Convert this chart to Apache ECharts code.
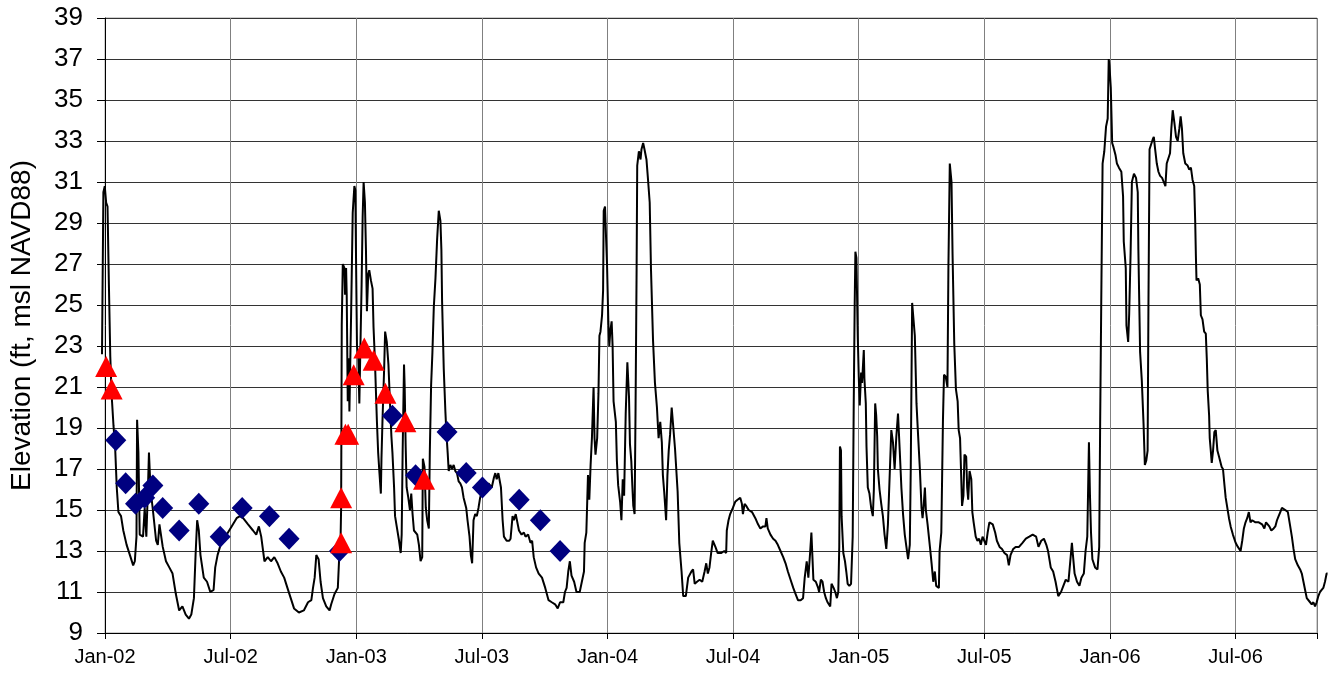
<!DOCTYPE html>
<html>
<head>
<meta charset="utf-8">
<script src="https://cdn.jsdelivr.net/npm/echarts@6/dist/echarts.min.js"></script>
<style>
  html, body { margin: 0; padding: 0; background: #fff; }
  #chart { width: 1333px; height: 675px; }
</style>
</head>
<body>
<div id="chart"></div>
<script>
// x values are days counted from 1 Jan 2002, y values are elevation (ft)
var lineData = [
  [0,22.6],[2,30.5],[4,30.8],[6,30.0],[8,29.8],[10,26.0],[12,22.5],[14,20.6],[16.7,19.1],[19,18.1],
  [21.4,16.1],[23.8,14.9],[27.6,14.7],[30.9,14.0],[35.7,13.3],[40.5,12.8],[45.2,12.3],[47.6,12.5],[50,13.7],[50.9,19.4],
  [52.8,17.8],[54.7,13.8],[59.5,13.7],[61.9,15.1],[64.3,13.7],[66.6,16.0],[68.1,17.8],[70.4,16.0],[73.8,15.0],[78.5,13.5],
  [80.9,13.3],[83.3,14.3],[88.1,13.2],[92.8,12.5],[97.6,12.2],[102.3,11.9],[107.1,10.9],[111.9,10.1],[116.6,10.3],[121.4,9.9],
  [126.1,9.7],[129.5,9.9],[133.3,10.7],[135.7,12.8],[138,14.5],[140.4,14.0],[142.8,12.8],[147.6,11.7],[152.3,11.5],[157.1,11.0],
  [161.8,11.1],[164.2,12.2],[167.6,12.8],[173.7,13.5],[180.9,13.8],[188,14.2],[195.2,14.6],[199.9,14.7],[204.7,14.6],[211.8,14.3],
  [219,14.0],[223.7,13.8],[227.5,14.2],[230.9,13.7],[235.6,12.5],[240.4,12.7],[245.1,12.5],[249.9,12.7],[254.7,12.4],[259.4,12.0],
  [264.2,11.7],[268.9,11.2],[273.7,10.7],[278.5,10.2],[285.6,10.0],[292.7,10.1],[298.8,10.5],[303.6,10.6],[306,11.2],[308.4,11.7],
  [310.8,12.8],[314.1,12.6],[317,11.5],[320.4,10.7],[325.2,10.3],[330,10.1],[332.4,10.4],[337.2,10.9],[342,11.2],[344.4,13.0],
  [345.8,13.3],[346.8,15.1],[347.7,24.0],[349.2,27.0],[351.6,26.8],[352.5,25.5],[354,26.8],[354.9,25.5],[356.4,20.3],[357.8,22.4],
  [358.8,19.8],[361.2,24.4],[363.6,29.5],[366,30.8],[367.4,30.6],[368.4,27.3],[369.8,23.0],[371.7,22.4],[373.2,20.2],[374.6,22.7],
  [376.5,26.0],[378,29.3],[379.4,31.0],[381.3,30.0],[382.8,27.7],[384.2,24.7],[386.1,26.5],[387.6,26.7],[390,26.2],[392.4,25.8],
  [393.8,23.9],[395.7,22.4],[398.6,19.4],[400.5,17.8],[402.4,16.8],[404.4,15.8],[405.3,17.5],[406.8,19.4],[409.2,21.9],[410.6,23.7],
  [413,23.2],[415.4,22.1],[417.8,20.1],[419.7,18.6],[421.2,17.8],[423.6,16.1],[425,14.7],[427.4,14.2],[430.8,13.5],[433.2,12.9],
  [434.6,13.8],[436,17.8],[438,22.1],[438.9,21.1],[440.4,18.1],[441.8,16.1],[444.2,15.6],[446.6,15.0],[448.5,15.8],[450.4,14.8],
  [452.4,14.0],[457.2,13.8],[459.6,13.3],[462,12.5],[464.4,12.7],[465.3,17.5],[467.7,17.1],[469.6,15.1],[471.6,14.5],[474,14.1],
  [475.4,17.8],[477.3,21.1],[479.2,22.7],[481.2,24.9],[483.6,26.3],[486,28.2],[488.4,29.6],[490.8,29.1],[492.2,27.7],[493.2,25.2],
  [495.6,21.9],[498,19.8],[499.4,18.8],[501.3,17.8],[502.8,16.9],[505.2,17.2],[507.6,17.0],[510,17.2],[512.4,16.9],[514.8,16.8],
  [517.2,16.4],[519.6,16.3],[522,16.1],[524.4,15.6],[528.2,15.1],[530.1,14.5],[533,13.7],[534.9,12.8],[536.8,12.4],[538.8,14.5],
  [541.2,14.8],[543.6,14.7],[546,15.1],[548.4,15.6],[551.7,16.0],[555.6,16.1],[560.4,16.3],[565.2,16.1],[568.5,16.6],[570.4,16.8],
  [572.4,16.5],[574.8,16.8],[577.2,16.8],[578.6,16.1],[581,14.5],[582.9,13.7],[586.8,13.5],[590.6,13.5],[592.5,13.6],[595.4,14.7],
  [597.3,14.5],[600,14.8],[604.7,14.0],[608.5,13.8],[611.9,13.9],[614.2,13.7],[618,13.8],[621.4,13.4],[623.8,13.5],[626.1,12.7],
  [629.5,12.2],[633.3,11.9],[638.1,11.7],[642.8,11.2],[647.6,10.6],[652.3,10.5],[657.1,10.4],[660.9,10.2],[664.3,10.5],[669,10.5],
  [671.4,11.0],[673.8,11.2],[676.2,12.0],[678.5,12.5],[680.9,11.8],[684.7,11.5],[688.1,11.0],[692.8,11.0],[695.2,11.0],[699,12.0],
  [700,13.4],[702.4,13.9],[704.8,16.7],[706.7,15.5],[708.6,17.2],[710.5,18.5],[712.9,21.0],[714.3,18.5],[715.7,17.7],[718.1,18.5],
  [720,20.7],[721.4,23.5],[722.9,23.7],[725.2,24.5],[726.7,25.7],[727.6,29.6],[729.5,29.8],[731,28.3],[732.4,27.0],[734.3,24.2],
  [735.7,23.0],[737.1,23.7],[739.1,24.2],[740.5,23.0],[741.9,20.3],[745.2,19.3],[746.7,17.4],[748.6,16.2],[751.4,15.4],[753.3,14.5],
  [755.2,16.5],[757.2,15.7],[759.5,19.7],[761.9,22.2],[764.3,20.5],[765.7,18.2],[767.6,17.4],[769.1,16.2],[770.5,15.2],[772.4,14.8],
  [773.8,20.0],[775.3,26.7],[776.2,31.8],[778.6,32.5],[781,32.1],[782.4,32.6],[784.8,32.9],[786.7,32.6],[789.6,32.1],[791.9,31.1],
  [794.3,30.0],[796.2,26.7],[799.1,23.3],[801.9,21.2],[804.8,20.0],[807.2,18.5],[809.6,19.3],[811.9,18.3],[813.4,16.7],[815.3,15.9],
  [818.1,14.5],[820,16.7],[821.9,17.9],[823.9,18.7],[826.2,20.0],[828.6,19.0],[831,18.0],[833.4,18.0],[834.8,15.9],[837.2,13.4],
  [840.5,12.0],[842.9,10.8],[846.7,10.8],[850.1,11.7],[854.8,12.0],[857.2,12.1],[859.6,11.4],[862.9,11.5],[866.7,11.6],[870.5,11.5],
  [873.9,12.0],[876.3,12.4],[878.6,11.9],[881,12.2],[883.4,12.9],[885.8,13.5],[889.6,13.2],[892.9,12.9],[897.7,12.9],[902.5,13.0],
  [905.2,12.9],[906.1,14.0],[908.6,14.5],[911,14.8],[914.9,15.1],[918.3,15.4],[921.7,15.5],[925.6,15.6],[928,15.3],[929.5,14.8],
  [931.9,15.3],[934.4,15.2],[937.8,15.0],[942.7,14.9],[947.5,14.6],[951.4,14.3],[954.8,14.1],[958.7,14.2],[962.1,14.2],[963.6,14.6],
  [965.5,14.1],[969.4,13.8],[973.3,13.6],[976.7,13.5],[980.1,13.3],[984,13.0],[987.9,12.7],[991.3,12.4],[994.7,12.0],[998.6,11.6],
  [1002.5,11.2],[1005.9,10.9],[1009.3,10.6],[1013.2,10.6],[1016.7,10.7],[1019.1,11.7],[1022,12.5],[1024.4,11.7],[1026.9,12.9],[1028.8,13.9],
  [1030.3,12.7],[1031.7,11.6],[1035.2,11.5],[1038.6,11.2],[1040,11.0],[1042.5,11.6],[1044.9,11.5],[1047.3,11.0],[1049.8,10.7],[1052.2,10.5],
  [1056.1,10.3],[1058,11.4],[1061,11.2],[1063.4,11.0],[1065.8,10.7],[1067.8,11.0],[1069.2,13.2],[1070.2,18.1],[1071.7,17.9],[1072.6,14.7],
  [1075.1,12.9],[1077.5,12.5],[1079.4,12.0],[1081.4,11.4],[1083.8,11.3],[1086.3,11.4],[1088.7,13.7],[1090.2,20.2],[1091.6,25.1],[1092.6,27.6],
  [1094.1,27.3],[1096,23.5],[1097.5,21.5],[1098.9,20.1],[1100.9,21.7],[1102.3,21.2],[1104.8,22.8],[1105.7,21.4],[1107.7,20.2],[1108.7,18.1],
  [1110.6,16.1],[1113,15.8],[1115.5,15.1],[1117.9,14.7],[1119.4,16.0],[1121.3,20.2],[1122.8,19.6],[1124.2,18.6],[1125.2,17.0],[1127.6,16.0],
  [1130.1,15.3],[1132.5,14.7],[1134.9,13.8],[1137.4,13.1],[1139.8,14.3],[1142.2,14.3],[1144.7,18.9],[1147.1,18.3],[1149.5,17.0],[1152,18.6],
  [1154.4,19.7],[1156.9,17.9],[1159.3,16.1],[1161.7,14.8],[1164.2,13.8],[1166.6,13.2],[1169,12.6],[1171.5,13.3],[1172.9,17.0],[1174.9,25.1],
  [1176.8,25.1],[1178.8,23.5],[1181.2,20.2],[1183.6,18.6],[1186.1,17.0],[1188.5,15.1],[1190,14.6],[1191.4,15.1],[1193.4,16.1],[1194.8,15.0],
  [1197.3,14.3],[1200.7,13.2],[1203.1,12.4],[1205.5,11.5],[1207.8,12.0],[1209.8,11.3],[1213.7,11.2],[1214.7,13.0],[1217.2,13.9],[1219.6,19.4],
  [1221.1,21.6],[1223.6,21.5],[1226.1,21.0],[1227.5,26.8],[1229.5,31.9],[1232,31.0],[1233.5,27.5],[1236,23.1],[1238.4,20.9],[1240.9,20.3],
  [1242.4,18.9],[1244.4,18.5],[1245.9,16.8],[1247.3,15.2],[1249.3,15.7],[1250.8,17.7],[1253.3,17.6],[1254.7,16.1],[1256.2,15.5],[1258.2,16.9],
  [1260.7,16.5],[1262.2,14.9],[1264.1,14.4],[1267.1,13.7],[1269.6,13.5],[1272.1,13.6],[1274.5,13.3],[1277,13.7],[1279.5,13.5],[1282,13.3],
  [1284.4,13.9],[1286.9,14.4],[1291.8,14.3],[1295.3,13.9],[1297.8,13.5],[1301.7,13.2],[1305.2,13.1],[1308.7,12.9],[1312.6,12.8],[1315.1,12.3],
  [1317.6,12.8],[1321.5,13.1],[1325,13.2],[1329.9,13.2],[1334.9,13.4],[1339.8,13.6],[1344.8,13.7],[1349.7,13.8],[1354.7,13.7],[1358.1,13.2],
  [1362.1,13.5],[1366,13.6],[1369.5,13.3],[1372,13.0],[1375.9,12.2],[1379.4,12.0],[1382.9,11.5],[1386.8,10.8],[1390.8,11.0],[1394.2,11.3],
  [1397.7,11.6],[1401.6,11.5],[1404.1,11.5],[1406.6,13.4],[1408.1,12.8],[1410.5,11.9],[1414,11.5],[1417.5,11.3],[1420.4,11.7],[1423.9,11.9],
  [1426.4,13.0],[1428.9,13.7],[1431.3,18.3],[1432.8,15.7],[1434.3,13.9],[1436.3,12.6],[1440.2,12.2],[1443.7,12.1],[1446.2,13.2],[1447.6,19.4],
  [1449.1,24.9],[1451.1,31.9],[1453.6,32.5],[1456.1,33.7],[1458.5,34.1],[1460,37.0],[1461,36.7],[1463,35.6],[1465,32.9],[1466.9,32.7],
  [1469.9,32.3],[1471.9,31.9],[1474.8,31.7],[1478.3,31.5],[1480.8,30.3],[1481.8,28.1],[1484.7,26.8],[1485.7,24.0],[1488.2,23.2],[1489.7,24.6],
  [1491.7,27.5],[1493.6,31.0],[1496.6,31.4],[1499.6,31.2],[1502.1,30.5],[1503,27.7],[1505.5,22.7],[1508,21.3],[1510.5,19.2],[1512.4,17.2],
  [1514.4,17.4],[1516.4,17.9],[1517.6,25.0],[1519.2,32.6],[1521.6,32.6],[1524,33.1],[1525.4,33.2],[1527.3,32.6],[1529.7,31.9],[1532.1,31.5],
  [1534.5,31.3],[1537.4,31.2],[1539.8,31.0],[1542.2,30.8],[1544.1,31.9],[1546.5,31.9],[1548.9,32.4],[1550.8,33.6],[1552.8,34.5],[1555.2,33.9],
  [1557.6,33.2],[1560,33.0],[1562.4,33.6],[1564.3,34.2],[1566.2,33.6],[1568.1,32.4],[1571,31.9],[1574.4,31.8],[1576.8,31.6],[1579.2,31.7],
  [1581.6,31.1],[1584,30.8],[1585.4,29.1],[1586.4,27.4],[1587.3,26.2],[1589.7,26.3],[1592.1,26.0],[1593.6,24.5],[1596,24.3],[1598.4,23.7],
  [1600.8,23.6],[1602.2,22.4],[1603.6,20.8],[1605.6,19.6],[1606.5,18.5],[1608,17.9],[1609.4,17.3],[1611.3,17.9],[1613.2,18.8],[1615.2,18.9],
  [1617.6,17.9],[1620,17.6],[1623.8,17.1],[1625.7,17.0],[1627.6,16.3],[1629.6,15.6],[1632,15.1],[1634.4,14.6],[1636.8,14.2],[1640.1,13.8],
  [1644,13.4],[1647.3,13.2],[1651.2,13.0],[1653.6,13.5],[1656,14.1],[1658.4,14.4],[1660.8,14.6],[1663.2,14.9],[1665.6,14.4],[1668,14.5],
  [1672.8,14.4],[1677.6,14.4],[1682.4,14.3],[1685.7,14.1],[1688.1,14.4],[1691,14.4],[1692.9,14.2],[1695.8,14.0],[1699.2,14.1],[1701.6,14.2],
  [1704,14.5],[1706.4,14.7],[1708.8,14.9],[1711.2,15.1],[1713.6,15.1],[1716,15.0],[1719.8,14.9],[1723.2,14.2],[1725.6,13.7],[1728,13.1],
  [1730.4,12.6],[1734.2,12.3],[1737.6,12.1],[1740,11.9],[1742.4,11.5],[1744.8,11.1],[1747.2,10.7],[1749.6,10.7],[1752,10.5],[1754.4,10.4],
  [1756.8,10.5],[1759.2,10.3],[1761.6,10.5],[1764,10.8],[1766.4,11.0],[1768.8,11.1],[1771.2,11.2],[1773.6,11.5],[1776,11.9],[1777.4,11.9]
];

var diamondDays = [20, 34.3, 48.6, 61.9, 73.8, 88, 111.9, 140.4, 171.4, 203.3, 242.8, 271.3,
                   344.4, 421.2, 454.8, 500.4, 528.2, 551.7, 605, 635.7, 664.3];
var diamondElev = [18.4, 16.3, 15.3, 15.6, 16.2, 15.1, 14.0, 15.3, 13.7, 15.1, 14.7, 13.6,
                   13.0, 19.6, 16.7, 18.8, 16.8, 16.1, 15.5, 14.5, 13.0];

var triangleDays = [6, 14, 346.8, 346.8, 353, 357, 365, 380.4, 394, 411, 440, 467];
var triangleElev = [22.0, 20.9, 13.4, 15.6, 18.7, 18.7, 21.6, 22.9, 22.3, 20.7, 19.3, 16.5];

var tickLabels = ['Jan-02', 'Jul-02', 'Jan-03', 'Jul-03', 'Jan-04', 'Jul-04',
                  'Jan-05', 'Jul-05', 'Jan-06', 'Jul-06'];

var halfYear = 182.625;
var axisEnd = 1762;   // right edge of the plot frame
var dataEnd = 1778;   // the trace runs a little past the frame
var font = '"Liberation Sans", Arial, sans-serif';

function pairs(xs, ys) {
  return xs.map(function (x, i) { return [x, ys[i]]; });
}

var chart = echarts.init(document.getElementById('chart'));
chart.setOption({
  animation: false,
  backgroundColor: '#fff',
  grid: [
    // frame, ticks and labels
    { left: 102, right: 16, top: 18, bottom: 42, show: true, borderColor: '#a0a0a0', borderWidth: 1 },
    // same scale, wider so the trace can run past the frame
    { left: 102, right: 5, top: 18, bottom: 42 }
  ],
  xAxis: [
    {
      type: 'value',
      gridIndex: 0,
      min: 0,
      max: axisEnd,
      interval: halfYear,
      axisLine: { lineStyle: { color: '#000', width: 1 } },
      axisTick: { show: true, length: 6, lineStyle: { color: '#000' } },
      axisLabel: {
        margin: 14,
        fontFamily: font,
        fontSize: 20,
        color: '#000',
        formatter: function (v) {
          var k = Math.round(v / halfYear);
          return Math.abs(k * halfYear - v) < 1 && tickLabels[k] ? tickLabels[k] : '';
        }
      },
      splitLine: { show: true, lineStyle: { color: '#808080', width: 1 } }
    },
    { type: 'value', gridIndex: 1, min: 0, max: dataEnd, show: false }
  ],
  yAxis: [
    {
      type: 'value',
      gridIndex: 0,
      min: 9,
      max: 39,
      interval: 2,
      name: 'Elevation (ft, msl NAVD88)',
      nameLocation: 'middle',
      nameGap: 69,
      nameTextStyle: { fontFamily: font, fontSize: 28, color: '#000' },
      axisLine: { show: true, lineStyle: { color: '#000', width: 1 } },
      axisTick: { show: true, length: 8, lineStyle: { color: '#000' } },
      axisLabel: { margin: 22, fontFamily: font, fontSize: 26, color: '#000' },
      splitLine: { show: true, lineStyle: { color: '#333', width: 1 } }
    },
    { type: 'value', gridIndex: 1, min: 9, max: 39, show: false }
  ],
  series: [
    {
      type: 'line',
      xAxisIndex: 1,
      yAxisIndex: 1,
      data: lineData,
      showSymbol: false,
      lineStyle: { color: '#000', width: 2 },
      z: 2
    },
    {
      type: 'scatter',
      xAxisIndex: 1,
      yAxisIndex: 1,
      data: pairs(diamondDays, diamondElev),
      symbol: 'diamond',
      symbolSize: [21, 22],
      itemStyle: { color: '#000080', opacity: 1 },
      z: 3
    },
    {
      type: 'scatter',
      xAxisIndex: 1,
      yAxisIndex: 1,
      data: pairs(triangleDays, triangleElev),
      symbol: 'triangle',
      symbolSize: [22, 21],
      itemStyle: { color: '#ff0000', opacity: 1 },
      z: 4
    }
  ]
});
</script>
</body>
</html>
